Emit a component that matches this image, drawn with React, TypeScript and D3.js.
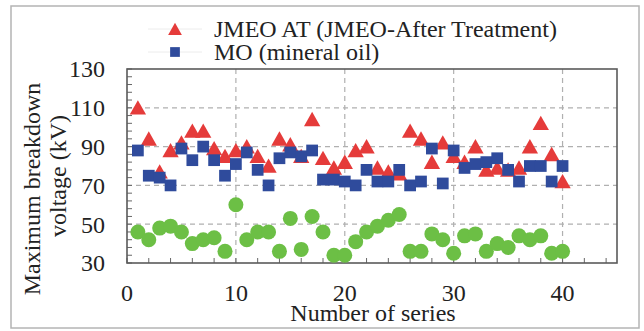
import * as d3 from 'd3';

var SERIES_NO = [1, 2, 3, 4, 5, 6, 7, 8, 9, 10, 11, 12, 13, 14, 15, 16, 17, 18, 19, 20,
  21, 22, 23, 24, 25, 26, 27, 28, 29, 30, 31, 32, 33, 34, 35, 36, 37, 38, 39, 40];
var JMEO_AT = [110, 94, 77, 88, 92, 98, 98, 89, 85, 88, 90, 85, 80, 94, 91, 85, 104, 84, 79, 82,
  88, 90, 79, 77, 76, 98, 94, 82, 92, 85, 82, 90, 78, 79, 78, 79, 90, 102, 86, 72];
var MO = [88, 75, 74, 70, 89, 83, 90, 83, 75, 81, 87, 78, 70, 84, 87, 85, 88, 73, 73, 72,
  70, 78, 72, 72, 78, 70, 72, 89, 71, 88, 79, 81, 82, 84, 78, 72, 80, 80, 72, 80];
var GREEN = [46, 42, 48, 49, 46, 40, 42, 43, 36, 60, 42, 46, 46, 36, 53, 37, 54, 46, 34, 34,
  41, 46, 49, 52, 55, 36, 36, 45, 42, 35, 44, 45, 36, 40, 38, 44, 42, 44, 35, 36];
var X_TICKS = [0, 10, 20, 30, 40];
var Y_TICKS = [30, 50, 70, 90, 110, 130];
var LEGEND = ['JMEO AT (JMEO-After Treatment)', 'MO (mineral oil)'];

var RED = '#e53b3a';
var BLUE = '#2f4b9c';
var GRN = '#6cbf45';
var TXT = { fontFamily: 'Liberation Serif', fontSize: 24, fill: '#222' };

var L = 127, R = 617, T = 69, B = 263;
var x = d3.scaleLinear().domain([0, 45]).range([L, R]);
var y = d3.scaleLinear().domain([30, 130]).range([B, T]);

var tri = d3.symbol().type(d3.symbolTriangle).size(80)() as string;
var sq = d3.symbol().type(d3.symbolSquare).size(138)() as string;
var tri2 = d3.symbol().type(d3.symbolTriangle).size(62)() as string;
var sq2 = d3.symbol().type(d3.symbolSquare).size(95)() as string;

var grid = { stroke: '#b0b0b0', strokeWidth: 1.2, strokeDasharray: '5,4' };

export default function App() {
  return (
    <svg width={644} height={331} style={{ position: 'absolute', left: 0, top: 0, background: 'white' }}>
      {/* outer border */}
      <rect x={11} y={6} width={628} height={322} fill="white" stroke="#b4b4b4" strokeWidth={1.5} />

      {/* grid */}
      {X_TICKS.slice(1).map(function (t) {
        return <line key={'gx' + t} x1={x(t)} x2={x(t)} y1={T} y2={B} {...grid} />;
      })}
      {Y_TICKS.slice(1, -1).map(function (t) {
        return <line key={'gy' + t} x1={L} x2={R} y1={y(t)} y2={y(t)} {...grid} />;
      })}

      {/* inward minor ticks */}
      {d3.range(0, 46, 2).map(function (t) {
        return <line key={'mx' + t} x1={x(t)} x2={x(t)} y1={B} y2={B - 5} stroke="#666" strokeWidth={1} />;
      })}
      {d3.range(30, 131, 4).map(function (t) {
        return <line key={'my' + t} x1={L} x2={L + 5} y1={y(t)} y2={y(t)} stroke="#666" strokeWidth={1} />;
      })}

      <rect x={L} y={T} width={R - L} height={B - T} fill="none" stroke="#5a5a5a" strokeWidth={1.6} />

      {/* tick labels */}
      {X_TICKS.map(function (t) {
        return <text key={'lx' + t} x={x(t)} y={301} textAnchor="middle" style={TXT}>{t}</text>;
      })}
      {Y_TICKS.map(function (t) {
        return <text key={'ly' + t} x={105} y={y(t)} dy="0.35em" textAnchor="end" style={TXT}>{t}</text>;
      })}

      {/* axis titles */}
      <text x={373} y={321} textAnchor="middle" style={TXT}>Number of series</text>
      <text transform="translate(40,189) rotate(-90)" textAnchor="middle" style={TXT}>Maximum breakdown</text>
      <text transform="translate(66,176) rotate(-90)" textAnchor="middle" style={TXT}>voltage (kV)</text>

      {/* points: circles, then triangles, squares on top */}
      {GREEN.map(function (d, i) {
        return <circle key={'c' + i} cx={x(SERIES_NO[i])} cy={y(d)} r={7.5} fill={GRN} />;
      })}
      {JMEO_AT.map(function (d, i) {
        return <path key={'t' + i} d={tri} fill={RED}
          transform={'translate(' + x(SERIES_NO[i]) + ',' + (y(d) + 2) + ') scale(1.2,1.22)'} />;
      })}
      {MO.map(function (d, i) {
        return <path key={'s' + i} d={sq} fill={BLUE}
          transform={'translate(' + x(SERIES_NO[i]) + ',' + y(d) + ')'} />;
      })}

      {/* legend */}
      {[29, 52].map(function (ly, i) {
        return (
          <g key={'leg' + i}>
            <line x1={148} x2={202} y1={ly} y2={ly} stroke="#ececec" strokeWidth={1} />
            <path d={i === 0 ? tri2 : sq2} fill={i === 0 ? RED : BLUE}
              transform={'translate(175,' + (i === 0 ? ly + 2 : ly) + ')' + (i === 0 ? ' scale(1.15,1.18)' : '')} />
            <text x={214} y={ly} dy="0.33em" style={TXT}>{LEGEND[i]}</text>
          </g>
        );
      })}
    </svg>
  );
}
